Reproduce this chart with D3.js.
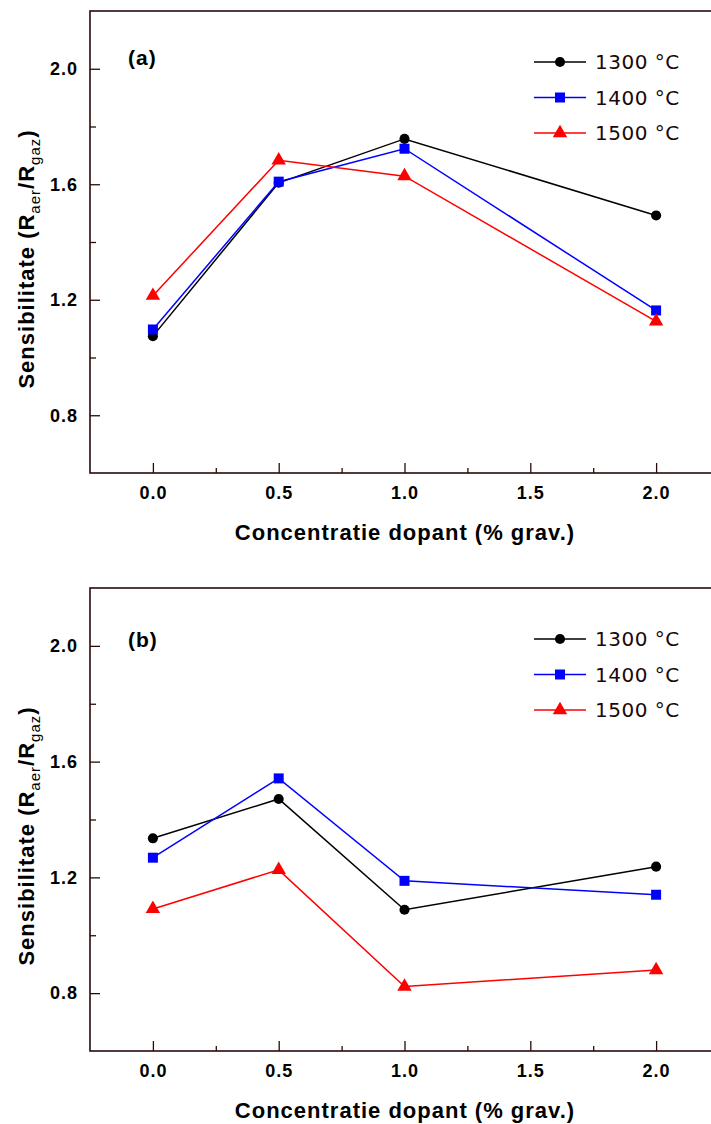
<!DOCTYPE html>
<html>
<head>
<meta charset="utf-8">
<script src="https://d3js.org/d3.v7.min.js"></script>
<style>
  body { margin: 0; background: #fff; }
  svg { display: block; }
</style>
</head>
<body>
<div id="chart"></div>
<script>
    // data
    var concentration = [0, 0.5, 1.0, 2.0];
    var seriesNames = ["1300 °C", "1400 °C", "1500 °C"];
    var a1300 = [1.074, 1.605, 1.757, 1.492];
    var a1400 = [1.097, 1.609, 1.723, 1.163];
    var a1500 = [1.214, 1.683, 1.628, 1.125];
    var b1300 = [1.335, 1.471, 1.088, 1.237];
    var b1400 = [1.268, 1.542, 1.188, 1.140];
    var b1500 = [1.091, 1.226, 0.823, 0.880];
    var xTicks = [0, 0.5, 1.0, 1.5, 2.0];
    var xMinor = [0.25, 0.75, 1.25, 1.75];
    var yTicks = [0.8, 1.2, 1.6, 2.0];
    var yMinor = [1.0, 1.4, 1.8];
    var panelLabels = ["(a)", "(b)"];

    var colors = ["#000000", "#0000ff", "#ff0000"];
    var shapes = [d3.symbolCircle, d3.symbolSquare, d3.symbolTriangle];
    var symSize = [80, 100, 90];

    var W = 711, H = 1124;
    var left = 90, right = 719;
    var panels = [
        {top: 11, bottom: 473, label: panelLabels[0], labelY: 65, series: [a1300, a1400, a1500]},
        {top: 588, bottom: 1051, label: panelLabels[1], labelY: 647, series: [b1300, b1400, b1500]}
    ];

    var svg = d3.select("#chart").append("svg")
        .attr("width", W)
        .attr("height", H);

    var x = d3.scaleLinear().domain([-0.25, 2.25]).range([left, right]);
    var frameColor = "#2a0a0a";
    var boldFont = "'Liberation Sans', Arial, sans-serif";

    panels.forEach(function(p) {
        var y = d3.scaleLinear().domain([0.6, 2.2]).range([p.bottom, p.top]);
        var g = svg.append("g");

        // frame (right edge runs off the page)
        g.append("rect")
            .attr("x", left).attr("y", p.top)
            .attr("width", right - left).attr("height", p.bottom - p.top)
            .attr("fill", "none").attr("stroke", frameColor).attr("stroke-width", 1.6);

        // x axis, ticks pointing inward
        g.append("g")
            .attr("transform", "translate(0," + p.bottom + ")")
            .call(d3.axisBottom(x).tickValues(xTicks).tickFormat(d3.format(".1f"))
                .tickSizeInner(-10).tickSizeOuter(0).tickPadding(13));
        g.append("g")
            .attr("transform", "translate(0," + p.bottom + ")")
            .call(d3.axisBottom(x).tickValues(xMinor).tickFormat("")
                .tickSizeInner(-5).tickSizeOuter(0));

        // y axis
        g.append("g")
            .attr("transform", "translate(" + left + ",0)")
            .call(d3.axisLeft(y).tickValues(yTicks).tickFormat(d3.format(".1f"))
                .tickSizeInner(-10).tickSizeOuter(0).tickPadding(12));
        g.append("g")
            .attr("transform", "translate(" + left + ",0)")
            .call(d3.axisLeft(y).tickValues(yMinor).tickFormat("")
                .tickSizeInner(-6).tickSizeOuter(0));

        g.selectAll(".domain").remove();
        g.selectAll(".tick line").attr("stroke", frameColor).attr("stroke-width", 1.3);
        g.selectAll(".tick text")
            .attr("fill", "#000")
            .style("font-family", boldFont)
            .style("font-weight", "bold")
            .style("font-size", "18px")
            .style("letter-spacing", "1px");

        // axis titles
        g.append("text")
            .attr("x", 405)
            .attr("y", p.bottom + 67)
            .attr("text-anchor", "middle")
            .style("font-family", boldFont)
            .style("font-weight", "bold")
            .style("font-size", "22px")
            .style("letter-spacing", "1px")
            .text("Concentratie dopant (% grav.)");

        var yt = g.append("text")
            .attr("transform", "translate(34," + (p.top + 248) + ") rotate(-90)")
            .attr("text-anchor", "middle")
            .style("font-family", boldFont)
            .style("font-weight", "bold")
            .style("font-size", "22px")
            .style("letter-spacing", "1px");
        yt.append("tspan").text("Sensibilitate (R");
        yt.append("tspan").attr("dy", 6).style("font-size", "15px").style("font-weight", "normal").text("aer");
        yt.append("tspan").attr("dy", -6).text("/R");
        yt.append("tspan").attr("dy", 6).style("font-size", "15px").style("font-weight", "normal").text("gaz");
        yt.append("tspan").attr("dy", -6).text(")");

        // panel label
        g.append("text")
            .attr("x", 128)
            .attr("y", p.labelY)
            .style("font-family", boldFont)
            .style("font-weight", "bold")
            .style("font-size", "21px")
            .style("letter-spacing", "1px")
            .text(p.label);

        // series
        var line = d3.line()
            .x(function(d, i) { return x(concentration[i]); })
            .y(function(d) { return y(d); });

        p.series.forEach(function(vals, k) {
            g.append("path")
                .datum(vals)
                .attr("d", line)
                .attr("fill", "none")
                .attr("stroke", colors[k])
                .attr("stroke-width", 1.5);
            g.selectAll(".m" + k)
                .data(vals)
                .enter()
                .append("path")
                .attr("class", "m" + k)
                .attr("d", d3.symbol().type(shapes[k]).size(symSize[k]))
                .attr("transform", function(d, i) {
                    return "translate(" + x(concentration[i]) + "," + y(d) + ")";
                })
                .attr("fill", colors[k]);
        });

        // legend
        seriesNames.forEach(function(name, k) {
            var ly = p.top + 51 + k * 35.5;
            g.append("line")
                .attr("x1", 534).attr("x2", 586)
                .attr("y1", ly).attr("y2", ly)
                .attr("stroke", colors[k]).attr("stroke-width", 1.5);
            g.append("path")
                .attr("d", d3.symbol().type(shapes[k]).size(symSize[k]))
                .attr("transform", "translate(560," + ly + ")")
                .attr("fill", colors[k]);
            g.append("text")
                .attr("x", 595)
                .attr("y", ly)
                .attr("dy", "0.36em")
                .attr("fill", "#1a0808")
                .style("font-family", "'DejaVu Sans', sans-serif")
                .style("font-size", "20px")
                .style("letter-spacing", "0.5px")
                .text(name);
        });
    });
</script>
</body>
</html>
